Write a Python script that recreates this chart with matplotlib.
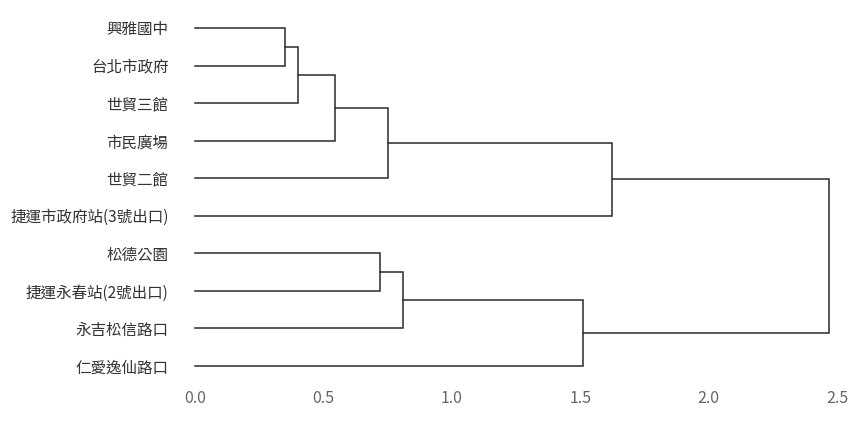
import matplotlib
matplotlib.use("Agg")
import matplotlib.pyplot as plt

# leaves, top to bottom
labels = ["興雅國中", "台北市政府", "世貿三館", "市民廣場", "世貿二館",
          "捷運市政府站(3號出口)", "松德公園", "捷運永春站(2號出口)",
          "永吉松信路口", "仁愛逸仙路口"]

# merges: (child a, child b, height); new clusters numbered from len(labels)
merge_a = [0, 10, 11, 12, 13, 6, 15, 16, 14]
merge_b = [1, 2, 3, 4, 5, 7, 8, 9, 17]
merge_h = [0.35, 0.40, 0.545, 0.75, 1.625, 0.72, 0.81, 1.51, 2.47]

xticks = [0.0, 0.5, 1.0, 1.5, 2.0, 2.5]

plt.rcParams['font.family'] = ['Noto Sans CJK TC', 'DejaVu Sans']

fig = plt.figure(figsize=(8.64, 4.32), dpi=100)
ax = fig.add_axes([195 / 864, 1 - 384.8 / 432, 642 / 864, 375.6 / 432])

# position and height of every node
ypos = {i: float(i) for i in range(len(labels))}
hgt = {i: 0.0 for i in range(len(labels))}
n = len(labels)
for k, (a, b, h) in enumerate(zip(merge_a, merge_b, merge_h)):
    node = n + k
    ax.plot([hgt[a], h, h, hgt[b]], [ypos[a], ypos[a], ypos[b], ypos[b]],
            color="#2b2b2b", lw=1.1, clip_on=False, solid_joinstyle="miter")
    ypos[node] = (ypos[a] + ypos[b]) / 2
    hgt[node] = h

ax.set_xlim(0, 2.5)
ax.set_ylim(len(labels) - 0.5, -0.5)
ax.set_yticks(range(len(labels)))
ax.set_yticklabels(labels, fontsize=11.2, color="#333333")
ax.set_xticks(xticks)
ax.set_xticklabels(["%.1f" % t for t in xticks], fontsize=11.5, color="#666666")
ax.tick_params(axis="y", length=0, pad=19)
ax.tick_params(axis="x", length=0, pad=4)
for s in ax.spines.values():
    s.set_visible(False)

fig.savefig("out.png", dpi=100)
